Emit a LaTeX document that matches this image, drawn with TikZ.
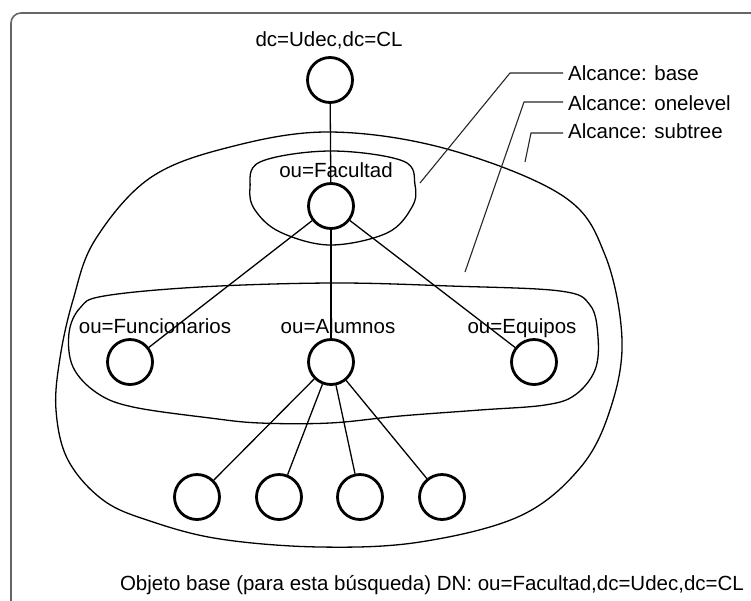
\documentclass[tikz,border=0pt]{standalone}
\usepackage{fontspec}
\setmainfont{Liberation Sans}
\begin{document}
\begin{tikzpicture}[x=1pt,y=-1pt,
  every node/.style={font=\fontsize{20.5}{24}\selectfont, inner sep=0pt},
  entry/.style={circle, draw, line width=2.8pt, minimum size=45pt},
  lbl/.style={anchor=base},
  edge/.style={line width=1.3pt},
  region/.style={line width=1.3pt},
  leader/.style={line width=1.1pt, black!85},
  frame/.style={line width=1.6pt, black!60, rounded corners=10pt}]
\clip (0,0) rectangle (751,600);
\fill[white] (0,0) rectangle (751,600);

% outer frame (open towards the right and the bottom)
\draw[frame] (11,640) -- (11,13) -- (790,13);

% scope regions
\draw[region] plot[smooth cycle, tension=0.6] coordinates {
  (330,132) (447,149) (563,196) (605,255) (622,340) (610,410) (580,468)
  (520,516) (420,542) (320,547) (220,539) (150,521) (103,500) (68,460)
  (56,410) (60,358) (73,300) (95,240) (150,178) (230,147)};
\draw[region] plot[smooth cycle, tension=0.6] coordinates {
  (332,283) (450,286) (560,291) (590,305) (598,337) (595,370) (575,395)
  (545,405) (480,410) (400,416) (330,423) (260,423) (210,418) (133,407)
  (97,393) (73,367) (69,333) (80,308) (104,296) (200,287)};
\draw[region] plot[smooth cycle, tension=0.6] coordinates {
  (330,151) (403,161) (415,185) (412,207) (387,233) (330,245)
  (280,232) (255,210) (250,188) (260,162)};

% directory entries
\node[entry] (root) at (330,80) {};
\node[entry] (fac)  at (331,206) {};
\node[entry] (fun)  at (130,362) {};
\node[entry] (alu)  at (331,362) {};
\node[entry] (equ)  at (534,362) {};
\node[entry] (c1)   at (197,497) {};
\node[entry] (c2)   at (279,497) {};
\node[entry] (c3)   at (360,497) {};
\node[entry] (c4)   at (442,497) {};

% tree edges
\draw[edge] (root) -- (fac);
\draw[edge] (fac) -- (fun);
\draw[edge] (fac) -- (alu);
\draw[edge] (fac) -- (equ);
\foreach \c in {c1,c2,c3,c4} \draw[edge] (alu) -- (\c);

% entry names
\node[lbl] (troot) at (329,46)  {dc=Udec,dc=CL};
\node[lbl] (tfac)  at (336,177) {ou=Facultad};
\node[lbl] (tfun)  at (155,333) {ou=Funcionarios};
\node[lbl] (talu)  at (338,333) {ou=Alumnos};
\node[lbl] (tequ)  at (522,333) {ou=Equipos};

% scope labels with leaders
\node[anchor=base west] (sbase) at (568,80)  {Alcance: base};
\node[anchor=base west] (sone)  at (568,110) {Alcance: onelevel};
\node[anchor=base west] (ssub)  at (568,138) {Alcance: subtree};
\coordinate (pbase) at (420,183);
\coordinate (pone)  at (465,272);
\coordinate (psub)  at (525,162);
\draw[leader] (pbase) -- (510,73) -- ([xshift=-5pt]sbase.west |- 0,73);
\draw[leader] (pone) -- (524,102) -- ([xshift=-5pt]sone.west |- 0,102);
\draw[leader] (psub) -- (531,133) -- ([xshift=-5pt]ssub.west |- 0,133);

% caption
\node[lbl] (cap) at (432,590) {Objeto base (para esta búsqueda) DN: ou=Facultad,dc=Udec,dc=CL};
\end{tikzpicture}
\end{document}
